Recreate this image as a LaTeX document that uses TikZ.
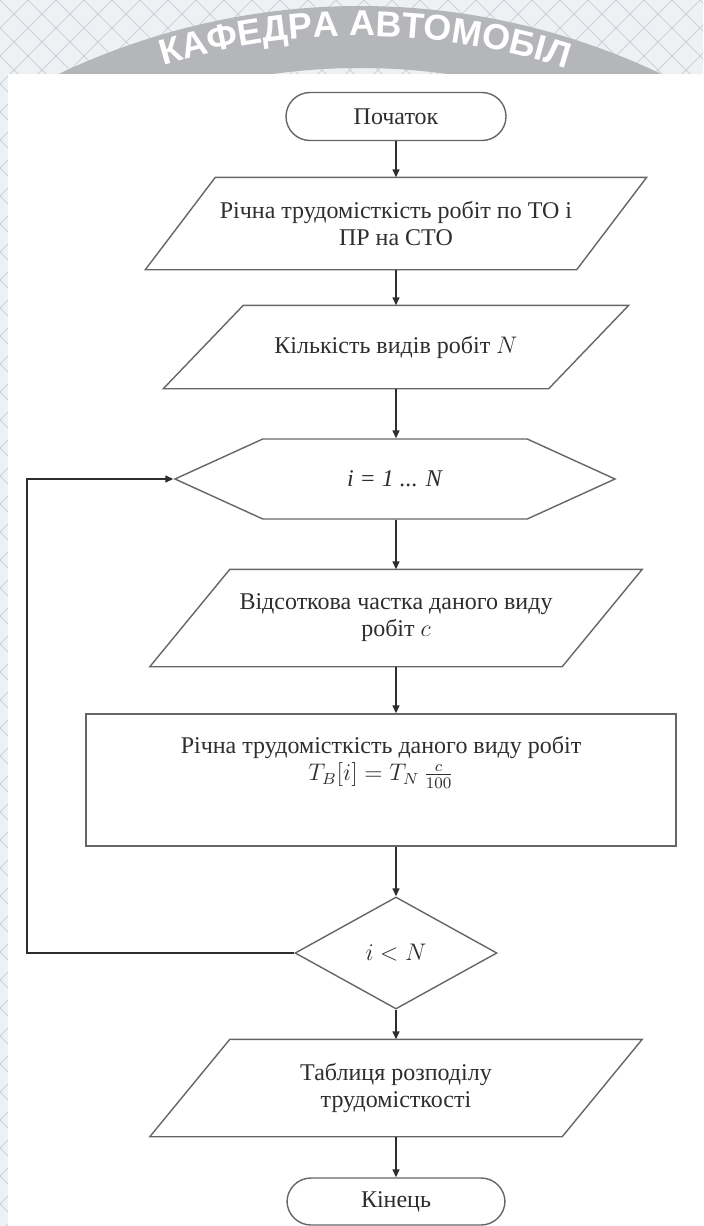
\documentclass[tikz,border=0pt]{standalone}
\usepackage{amsmath}
\usepackage{fontspec}
\setmainfont{Liberation Serif}
\newfontfamily\stampfont{Liberation Sans}
\usepackage{tikz}
\usetikzlibrary{arrows.meta,calc,decorations.text,shapes.geometric,shapes.symbols,positioning}
\definecolor{edge}{HTML}{666666}
\definecolor{ink}{HTML}{2E2E2E}
\definecolor{paper}{HTML}{EEF1F4}
\definecolor{hatch}{HTML}{CCD2D8}
\definecolor{stamp}{HTML}{B4B6B9}

\tikzset{
  block/.style={draw=edge, line width=0.7pt, text=ink, font=\fontsize{12}{13.5}\selectfont, align=center, inner sep=2pt},
  term/.style={block, rectangle, rounded corners=12pt, minimum width=110pt, minimum height=24pt},
  io/.style={block, draw=none, rectangle},
  rangebox/.style={block, signal, signal to=west and east, signal pointer angle=49},
  decision/.style={block, diamond, minimum width=101pt, minimum height=56pt, inner sep=0pt},
  arr/.style={draw=ink, line width=0.7pt, -{Triangle[length=4pt,width=3.5pt]}}
}
% slanted frame round an io node: #1 node, #2 slant
\newcommand{\ioframe}[2]{\draw[edge, line width=0.7pt] (#1.south west) -- ($(#1.north west)+(#2,0)$) -- (#1.north east) -- ($(#1.south east)-(#2,0)$) -- cycle;}

\begin{document}
\begin{tikzpicture}[x=0.5pt,y=-0.5pt]
  \useasboundingbox (0,0) rectangle (703,1226);
  % background sheet with stamp
  \fill[paper] (0,0) rectangle (703,1226);
  \begin{scope}
    \clip (0,0) rectangle (703,1226);
    \foreach \k in {-1260,-1232,...,700}{
      \draw[hatch,line width=0.4pt] (\k,0) -- ++(1226,1226);
      \draw[hatch,line width=0.4pt] (\k+1260,0) -- ++(-1226,1226);
    }
  \end{scope}
  \fill[stamp] ($(360,708)+(240:702)$) arc[start angle=240,end angle=300,radius=702]
    -- ($(360,708)+(300:640)$) arc[start angle=300,end angle=240,radius=640] -- cycle;
  \path[decorate,decoration={text along path,text align=left,text color=white,
    text={|\stampfont\bfseries\fontsize{18}{18}\selectfont|КАФЕДРА АВТОМОБІЛ}}]
    ($(360,708)+(253:672)$) arc[start angle=253,end angle=295,radius=672];
  \fill[white] (8,74) rectangle (720,1240);

  % flowchart
  \node[term] (start) at (396,116.5) {Початок};
  \node[io, minimum width=250pt, minimum height=45.5pt] (total) at (396,223.5) {Річна трудомісткість робіт по ТО і\\ПР на СТО};
  \ioframe{total}{70}
  \node[io, minimum width=232pt, minimum height=41pt] (kinds) at (396,347) {Кількість видів робіт $N$};
  \ioframe{kinds}{80}
  \node[rangebox, minimum width=220pt, minimum height=40pt] (range) at (395,479) {\textit{i = 1 ... N}};
  \node[io, minimum width=245.5pt, minimum height=48pt] (share) at (396,618) {Відсоткова частка даного виду\\робіт $c$};
  \ioframe{share}{80}
  \node[block, minimum width=295pt, minimum height=66pt] (annual) at (381,780) {Річна трудомісткість даного виду робіт\\$T_B[i] = T_N\,\tfrac{c}{100}$\\[8pt]};
  \node[decision] (test) at (396,953) {$i < N$};
  \node[io, minimum width=245.5pt, minimum height=48pt] (table) at (396,1088) {Таблиця розподілу\\трудомісткості};
  \ioframe{table}{80}
  \node[term, minimum width=109pt, minimum height=23.5pt] (finish) at (396,1201.5) {Кінець};
  \coordinate (back) at (27,953);

  \draw[arr] (start.south) -- (total.north);
  \draw[arr] (total.south) -- (kinds.north);
  \draw[arr] (kinds.south) -- (kinds.south |- range.north);
  \draw[arr] (range.south -| share.north) -- (share.north);
  \draw[arr] (share.south) -- (share.south |- annual.north);
  \draw[arr] (annual.south -| test.north) -- (test.north);
  \draw[arr] (test.west) -- (back) |- (range.west);
  \draw[arr] (test.south) -- (table.north);
  \draw[arr] (table.south) -- (finish.north);
\end{tikzpicture}
\end{document}
